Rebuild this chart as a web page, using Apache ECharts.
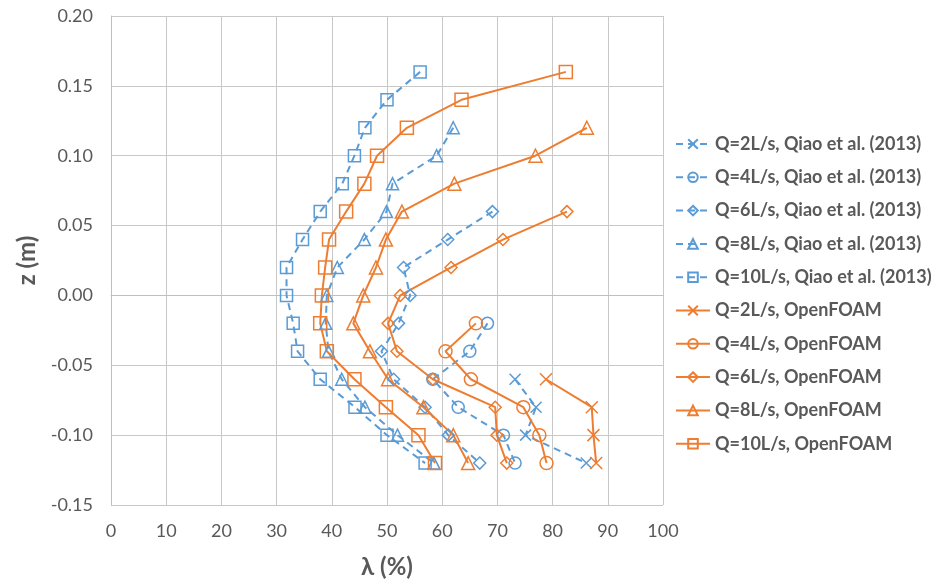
<!DOCTYPE html>
<html>
<head>
<meta charset="utf-8">
<script src="https://cdn.jsdelivr.net/npm/echarts@6/dist/echarts.min.js"></script>
<style>
  html, body { margin: 0; padding: 0; background: #fff; }
  #chart { width: 945px; height: 584px; }
</style>
</head>
<body>
<div id="chart"></div>
<script>
// depth levels (m)
const z10 = [0.16, 0.14, 0.12, 0.10, 0.08, 0.06, 0.04, 0.02, 0.00, -0.02, -0.04, -0.06, -0.08, -0.10, -0.12]
const z8 = [0.12, 0.10, 0.08, 0.06, 0.04, 0.02, 0.00, -0.02, -0.04, -0.06, -0.08, -0.10, -0.12]
const z6 = [0.06, 0.04, 0.02, 0.00, -0.02, -0.04, -0.06, -0.08, -0.10, -0.12]
const z4 = [-0.02, -0.04, -0.06, -0.08, -0.10, -0.12]
const z2 = [-0.06, -0.08, -0.10, -0.12]

// lambda (%) - Qiao et al. (2013)
const qiao2 = [73.2, 77.0, 75.1, 86.1]
const qiao4 = [68.2, 65.0, 58.3, 62.9, 71.1, 73.2]
const qiao6 = [69.1, 61.0, 53.0, 54.2, 52.1, 49.0, 51.2, 56.9, 61.1, 66.8]
const qiao8 = [62.0, 59.0, 51.0, 49.9, 45.9, 41.0, 39.1, 38.9, 39.4, 41.8, 46.0, 51.9, 58.5]
const qiao10 = [56.0, 50.0, 46.0, 44.1, 41.9, 37.9, 34.7, 31.8, 31.8, 33.0, 33.8, 37.9, 44.2, 50.0, 56.9]

// lambda (%) - OpenFOAM
const foam2 = [78.8, 87.1, 87.4, 87.9]
const foam4 = [66.1, 60.6, 65.2, 74.7, 77.6, 78.9]
const foam6 = [82.6, 71.0, 61.6, 52.4, 50.2, 51.8, 58.3, 69.6, 69.9, 71.7]
const foam8 = [86.2, 76.9, 62.2, 52.7, 49.8, 48.0, 45.7, 43.9, 46.9, 50.2, 56.6, 62.0, 64.7]
const foam10 = [82.4, 63.5, 53.6, 48.2, 45.9, 42.6, 39.5, 38.8, 38.2, 37.9, 39.1, 44.1, 49.8, 55.7, 58.7]

const BLUE = '#5b9bd5'
const ORANGE = '#ed7d31'
const CROSS = 'path://M0,0L10,10M0,10L10,0'

function pairs(xs, zs) {
  return xs.map((x, i) => [x, zs[i]])
}

function makeSeries(name, xs, zs, color, symbol, size, dashed) {
  return {
    name: name,
    type: 'line',
    data: pairs(xs, zs),
    symbol: symbol,
    symbolSize: size,
    showAllSymbol: true,
    lineStyle: {
      color: color,
      width: 2,
      type: dashed ? [7, 5] : 'solid'
    },
    itemStyle: {
      color: 'none',
      borderColor: color,
      borderWidth: 1.5
    },
    emphasis: { disabled: true },
    animation: false
  }
}

const series = [
  makeSeries('Q=2L/s, Qiao et al. (2013)', qiao2, z2, BLUE, CROSS, 11, true),
  makeSeries('Q=4L/s, Qiao et al. (2013)', qiao4, z4, BLUE, 'circle', 12, true),
  makeSeries('Q=6L/s, Qiao et al. (2013)', qiao6, z6, BLUE, 'diamond', 12, true),
  makeSeries('Q=8L/s, Qiao et al. (2013)', qiao8, z8, BLUE, 'triangle', 12, true),
  makeSeries('Q=10L/s, Qiao et al. (2013)', qiao10, z10, BLUE, 'rect', 12, true),
  makeSeries('Q=2L/s, OpenFOAM', foam2, z2, ORANGE, CROSS, 12, false),
  makeSeries('Q=4L/s, OpenFOAM', foam4, z4, ORANGE, 'circle', 13, false),
  makeSeries('Q=6L/s, OpenFOAM', foam6, z6, ORANGE, 'diamond', 12, false),
  makeSeries('Q=8L/s, OpenFOAM', foam8, z8, ORANGE, 'triangle', 13, false),
  makeSeries('Q=10L/s, OpenFOAM', foam10, z10, ORANGE, 'rect', 13, false)
]

const chart = echarts.init(document.getElementById('chart'), null, { renderer: 'canvas' })
chart.setOption({
  backgroundColor: '#fff',
  textStyle: { fontFamily: 'Lato, "Liberation Sans", sans-serif' },
  grid: {
    left: 111,
    right: 282,
    top: 16,
    bottom: 78
  },
  legend: {
    orient: 'vertical',
    left: 670,
    top: 129,
    itemWidth: 34,
    itemHeight: 12,
    itemGap: 13.3,
    textStyle: {
      color: '#595959',
      fontSize: 18,
      fontWeight: 'bold',
      lineHeight: 20
    },
    data: series.map(s => s.name)
  },
  xAxis: {
    type: 'value',
    min: 0,
    max: 100,
    interval: 10,
    name: 'λ (%)',
    nameLocation: 'middle',
    nameGap: 50,
    nameTextStyle: { color: '#595959', fontSize: 24, fontWeight: 'bold' },
    axisLine: { show: true, lineStyle: { color: '#bfbfbf' } },
    axisTick: { show: false },
    axisLabel: { color: '#595959', fontSize: 18, margin: 17 },
    splitLine: { show: true, lineStyle: { color: '#c8c8c8', width: 1 } }
  },
  yAxis: {
    type: 'value',
    min: -0.15,
    max: 0.20,
    interval: 0.05,
    name: 'z (m)',
    nameLocation: 'middle',
    nameGap: 72,
    nameTextStyle: { color: '#595959', fontSize: 24, fontWeight: 'bold' },
    axisLine: { show: true, lineStyle: { color: '#bfbfbf' } },
    axisTick: { show: false },
    axisLabel: {
      color: '#595959',
      fontSize: 18,
      margin: 18,
      formatter: v => v.toFixed(2)
    },
    splitLine: { show: true, lineStyle: { color: '#c8c8c8', width: 1 } }
  },
  series: series
})
</script>
</body>
</html>
